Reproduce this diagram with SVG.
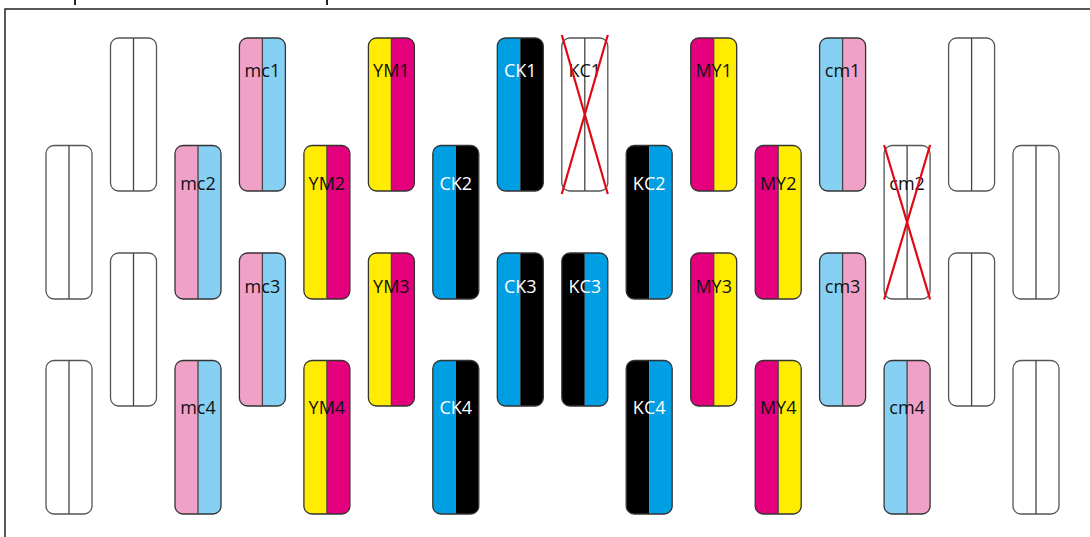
<svg xmlns="http://www.w3.org/2000/svg" width="1090" height="537" viewBox="0 0 1090 537">
<style>
.frame{fill:none;stroke:#222;stroke-width:1.5}
.tick{stroke:#222;stroke-width:2}
.box{fill:none;stroke:#333;stroke-width:1.3}
.blank{fill:#fff;stroke:#555;stroke-width:1.3}
.div{stroke:#444;stroke-width:1.3}
.pk{fill:#F0A1C7}
.lb{fill:#86D0F4}
.ye{fill:#FFEC00}
.mg{fill:#E4007D}
.cy{fill:#009FE3}
.bk{fill:#000}
.x{stroke:#E30613;stroke-width:2.2}
text{font-family:"Open Sans","Liberation Sans",sans-serif;font-size:18px;text-anchor:middle}
.w{fill:#fff}
.d{fill:#111}
</style>
<defs>
<clipPath id="cA"><rect x="0" y="38" width="46" height="153" rx="8"/></clipPath>
<clipPath id="cB"><rect x="0" y="145.5" width="46" height="153.5" rx="8"/></clipPath>
<clipPath id="cC"><rect x="0" y="253" width="46" height="153" rx="8"/></clipPath>
<clipPath id="cD"><rect x="0" y="360.5" width="46" height="153.5" rx="8"/></clipPath>
</defs>
<rect class="frame" x="5" y="9" width="1100" height="540"/>
<line class="tick" x1="75" y1="0" x2="75" y2="5"/>
<line class="tick" x1="327" y1="0" x2="327" y2="5"/>

<!-- blank nodes -->
<g id="b0a" transform="translate(46,0)"><rect class="blank" x="0" y="145.5" width="46" height="153.5" rx="8"/><line class="div" x1="23" y1="145.5" x2="23" y2="299"/></g>
<g id="b0b" transform="translate(46,0)"><rect class="blank" x="0" y="360.5" width="46" height="153.5" rx="8"/><line class="div" x1="23" y1="360.5" x2="23" y2="514"/></g>
<g id="b1a" transform="translate(110.5,0)"><rect class="blank" x="0" y="38" width="46" height="153" rx="8"/><line class="div" x1="23" y1="38" x2="23" y2="191"/></g>
<g id="b1b" transform="translate(110.5,0)"><rect class="blank" x="0" y="253" width="46" height="153" rx="8"/><line class="div" x1="23" y1="253" x2="23" y2="406"/></g>

<g id="mc2" transform="translate(175,0)"><g clip-path="url(#cB)"><rect class="pk" x="0" y="145" width="23" height="155"/><rect class="lb" x="23" y="145" width="23" height="155"/></g><rect class="box" x="0" y="145.5" width="46" height="153.5" rx="8"/><line class="div" x1="23" y1="145.5" x2="23" y2="299"/><text class="d" x="23" y="189.5">mc2</text></g>
<g id="mc4" transform="translate(175,0)"><g clip-path="url(#cD)"><rect class="pk" x="0" y="360" width="23" height="155"/><rect class="lb" x="23" y="360" width="23" height="155"/></g><rect class="box" x="0" y="360.5" width="46" height="153.5" rx="8"/><line class="div" x1="23" y1="360.5" x2="23" y2="514"/><text class="d" x="23" y="413.5">mc4</text></g>
<g id="mc1" transform="translate(239.4,0)"><g clip-path="url(#cA)"><rect class="pk" x="0" y="37" width="23" height="155"/><rect class="lb" x="23" y="37" width="23" height="155"/></g><rect class="box" x="0" y="38" width="46" height="153" rx="8"/><line class="div" x1="23" y1="38" x2="23" y2="191"/><text class="d" x="23" y="76.5">mc1</text></g>
<g id="mc3" transform="translate(239.4,0)"><g clip-path="url(#cC)"><rect class="pk" x="0" y="252" width="23" height="155"/><rect class="lb" x="23" y="252" width="23" height="155"/></g><rect class="box" x="0" y="253" width="46" height="153" rx="8"/><line class="div" x1="23" y1="253" x2="23" y2="406"/><text class="d" x="23" y="292.5">mc3</text></g>

<g id="YM2" transform="translate(303.9,0)"><g clip-path="url(#cB)"><rect class="ye" x="0" y="145" width="23" height="155"/><rect class="mg" x="23" y="145" width="23" height="155"/></g><rect class="box" x="0" y="145.5" width="46" height="153.5" rx="8"/><line class="div" x1="23" y1="145.5" x2="23" y2="299"/><text class="d" x="23" y="189.5">YM2</text></g>
<g id="YM4" transform="translate(303.9,0)"><g clip-path="url(#cD)"><rect class="ye" x="0" y="360" width="23" height="155"/><rect class="mg" x="23" y="360" width="23" height="155"/></g><rect class="box" x="0" y="360.5" width="46" height="153.5" rx="8"/><line class="div" x1="23" y1="360.5" x2="23" y2="514"/><text class="d" x="23" y="413.5">YM4</text></g>
<g id="YM1" transform="translate(368.4,0)"><g clip-path="url(#cA)"><rect class="ye" x="0" y="37" width="23" height="155"/><rect class="mg" x="23" y="37" width="23" height="155"/></g><rect class="box" x="0" y="38" width="46" height="153" rx="8"/><line class="div" x1="23" y1="38" x2="23" y2="191"/><text class="d" x="23" y="76.5">YM1</text></g>
<g id="YM3" transform="translate(368.4,0)"><g clip-path="url(#cC)"><rect class="ye" x="0" y="252" width="23" height="155"/><rect class="mg" x="23" y="252" width="23" height="155"/></g><rect class="box" x="0" y="253" width="46" height="153" rx="8"/><line class="div" x1="23" y1="253" x2="23" y2="406"/><text class="d" x="23" y="292.5">YM3</text></g>

<g id="CK2" transform="translate(432.8,0)"><g clip-path="url(#cB)"><rect class="cy" x="0" y="145" width="23" height="155"/><rect class="bk" x="23" y="145" width="23" height="155"/></g><rect class="box" x="0" y="145.5" width="46" height="153.5" rx="8"/><text class="w" x="23" y="189.5">CK2</text></g>
<g id="CK4" transform="translate(432.8,0)"><g clip-path="url(#cD)"><rect class="cy" x="0" y="360" width="23" height="155"/><rect class="bk" x="23" y="360" width="23" height="155"/></g><rect class="box" x="0" y="360.5" width="46" height="153.5" rx="8"/><text class="w" x="23" y="413.5">CK4</text></g>
<g id="CK1" transform="translate(497.3,0)"><g clip-path="url(#cA)"><rect class="cy" x="0" y="37" width="23" height="155"/><rect class="bk" x="23" y="37" width="23" height="155"/></g><rect class="box" x="0" y="38" width="46" height="153" rx="8"/><text class="w" x="23" y="76.5">CK1</text></g>
<g id="CK3" transform="translate(497.3,0)"><g clip-path="url(#cC)"><rect class="cy" x="0" y="252" width="23" height="155"/><rect class="bk" x="23" y="252" width="23" height="155"/></g><rect class="box" x="0" y="253" width="46" height="153" rx="8"/><text class="w" x="23" y="292.5">CK3</text></g>

<g id="KC1" transform="translate(561.8,0)"><rect class="blank" x="0" y="38" width="46" height="153" rx="8"/><line class="div" x1="23" y1="38" x2="23" y2="191"/><text class="d" x="23" y="76.5">KC1</text><line class="x" x1="0" y1="35" x2="46" y2="194"/><line class="x" x1="46" y1="35" x2="0" y2="194"/></g>
<g id="KC3" transform="translate(561.8,0)"><g clip-path="url(#cC)"><rect class="bk" x="0" y="252" width="23" height="155"/><rect class="cy" x="23" y="252" width="23" height="155"/></g><rect class="box" x="0" y="253" width="46" height="153" rx="8"/><text class="w" x="23" y="292.5">KC3</text></g>
<g id="KC2" transform="translate(626.2,0)"><g clip-path="url(#cB)"><rect class="bk" x="0" y="145" width="23" height="155"/><rect class="cy" x="23" y="145" width="23" height="155"/></g><rect class="box" x="0" y="145.5" width="46" height="153.5" rx="8"/><text class="w" x="23" y="189.5">KC2</text></g>
<g id="KC4" transform="translate(626.2,0)"><g clip-path="url(#cD)"><rect class="bk" x="0" y="360" width="23" height="155"/><rect class="cy" x="23" y="360" width="23" height="155"/></g><rect class="box" x="0" y="360.5" width="46" height="153.5" rx="8"/><text class="w" x="23" y="413.5">KC4</text></g>

<g id="MY1" transform="translate(690.7,0)"><g clip-path="url(#cA)"><rect class="mg" x="0" y="37" width="23" height="155"/><rect class="ye" x="23" y="37" width="23" height="155"/></g><rect class="box" x="0" y="38" width="46" height="153" rx="8"/><line class="div" x1="23" y1="38" x2="23" y2="191"/><text class="d" x="23" y="76.5">MY1</text></g>
<g id="MY3" transform="translate(690.7,0)"><g clip-path="url(#cC)"><rect class="mg" x="0" y="252" width="23" height="155"/><rect class="ye" x="23" y="252" width="23" height="155"/></g><rect class="box" x="0" y="253" width="46" height="153" rx="8"/><line class="div" x1="23" y1="253" x2="23" y2="406"/><text class="d" x="23" y="292.5">MY3</text></g>
<g id="MY2" transform="translate(755.2,0)"><g clip-path="url(#cB)"><rect class="mg" x="0" y="145" width="23" height="155"/><rect class="ye" x="23" y="145" width="23" height="155"/></g><rect class="box" x="0" y="145.5" width="46" height="153.5" rx="8"/><line class="div" x1="23" y1="145.5" x2="23" y2="299"/><text class="d" x="23" y="189.5">MY2</text></g>
<g id="MY4" transform="translate(755.2,0)"><g clip-path="url(#cD)"><rect class="mg" x="0" y="360" width="23" height="155"/><rect class="ye" x="23" y="360" width="23" height="155"/></g><rect class="box" x="0" y="360.5" width="46" height="153.5" rx="8"/><line class="div" x1="23" y1="360.5" x2="23" y2="514"/><text class="d" x="23" y="413.5">MY4</text></g>

<g id="cm1" transform="translate(819.6,0)"><g clip-path="url(#cA)"><rect class="lb" x="0" y="37" width="23" height="155"/><rect class="pk" x="23" y="37" width="23" height="155"/></g><rect class="box" x="0" y="38" width="46" height="153" rx="8"/><line class="div" x1="23" y1="38" x2="23" y2="191"/><text class="d" x="23" y="76.5">cm1</text></g>
<g id="cm3" transform="translate(819.6,0)"><g clip-path="url(#cC)"><rect class="lb" x="0" y="252" width="23" height="155"/><rect class="pk" x="23" y="252" width="23" height="155"/></g><rect class="box" x="0" y="253" width="46" height="153" rx="8"/><line class="div" x1="23" y1="253" x2="23" y2="406"/><text class="d" x="23" y="292.5">cm3</text></g>
<g id="cm2" transform="translate(884.1,0)"><rect class="blank" x="0" y="145.5" width="46" height="153.5" rx="8"/><line class="div" x1="23" y1="145.5" x2="23" y2="299"/><text class="d" x="23" y="189.5">cm2</text><line class="x" x1="0" y1="145" x2="46" y2="299.5"/><line class="x" x1="46" y1="145" x2="0" y2="299.5"/></g>
<g id="cm4" transform="translate(884.1,0)"><g clip-path="url(#cD)"><rect class="lb" x="0" y="360" width="23" height="155"/><rect class="pk" x="23" y="360" width="23" height="155"/></g><rect class="box" x="0" y="360.5" width="46" height="153.5" rx="8"/><line class="div" x1="23" y1="360.5" x2="23" y2="514"/><text class="d" x="23" y="413.5">cm4</text></g>

<g id="b14a" transform="translate(948.6,0)"><rect class="blank" x="0" y="38" width="46" height="153" rx="8"/><line class="div" x1="23" y1="38" x2="23" y2="191"/></g>
<g id="b14b" transform="translate(948.6,0)"><rect class="blank" x="0" y="253" width="46" height="153" rx="8"/><line class="div" x1="23" y1="253" x2="23" y2="406"/></g>
<g id="b15a" transform="translate(1013,0)"><rect class="blank" x="0" y="145.5" width="46" height="153.5" rx="8"/><line class="div" x1="23" y1="145.5" x2="23" y2="299"/></g>
<g id="b15b" transform="translate(1013,0)"><rect class="blank" x="0" y="360.5" width="46" height="153.5" rx="8"/><line class="div" x1="23" y1="360.5" x2="23" y2="514"/></g>
<g id="connectors"/>
</svg>
